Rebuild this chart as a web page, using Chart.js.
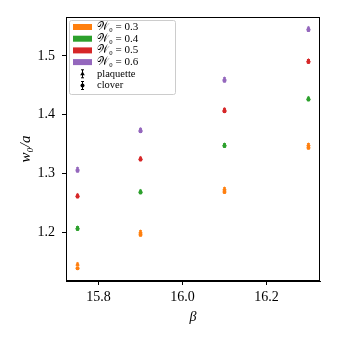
<!DOCTYPE html>
<html>
<head>
<meta charset="utf-8">
<script src="https://cdn.jsdelivr.net/npm/chart.js@4"></script>
<style>
html,body{margin:0;padding:0;background:#fff;}
canvas{display:block;}
</style>
</head>
<body>
<canvas id="c" width="340" height="340"></canvas>
<script>
// ---- data ----
const beta = [15.75, 15.9, 16.1, 16.3];
const w0Labels = ['0.3', '0.4', '0.5', '0.6'];
const colors = ['#ff7f0e', '#2ca02c', '#d62728', '#9467bd'];
const plaq03 = [1.146, 1.201, 1.274, 1.349];
const clov03 = [1.139, 1.196, 1.269, 1.344];
const plaq04 = [1.208, 1.270, 1.349, 1.428];
const clov04 = [1.206, 1.268, 1.347, 1.426];
const plaq05 = [1.263, 1.326, 1.409, 1.492];
const clov05 = [1.261, 1.324, 1.406, 1.490];
const plaq06 = [1.308, 1.375, 1.461, 1.547];
const clov06 = [1.305, 1.372, 1.458, 1.544];
const errs = [0.002, 0.002, 0.002, 0.002];
const xTicks = [15.8, 16.0, 16.2];
const yTicks = [1.2, 1.3, 1.4, 1.5];

const plaqSets = [plaq03, plaq04, plaq05, plaq06];
const clovSets = [clov03, clov04, clov05, clov06];

const datasets = [];
for (let i = 0; i < 4; i++) {
  datasets.push({
    label: 'plaq ' + w0Labels[i],
    data: beta.map((b, k) => ({x: b, y: plaqSets[i][k]})),
    yErr: errs,
    pointStyle: 'triangle',
    pointRadius: 2.6,
    backgroundColor: colors[i],
    borderColor: colors[i],
    borderWidth: 0,
    showLine: false
  });
  datasets.push({
    label: 'clov ' + w0Labels[i],
    data: beta.map((b, k) => ({x: b, y: clovSets[i][k]})),
    yErr: errs,
    pointStyle: 'circle',
    pointRadius: 2,
    backgroundColor: colors[i],
    borderColor: colors[i],
    borderWidth: 0,
    showLine: false
  });
}

const SERIF = '"Liberation Serif", "DejaVu Serif", serif';

const errorBars = {
  id: 'errorBars',
  beforeDatasetsDraw(chart) {
    const ctx = chart.ctx;
    const xs = chart.scales.x, ys = chart.scales.y;
    ctx.save();
    chart.data.datasets.forEach(ds => {
      ctx.strokeStyle = ds.borderColor;
      ctx.lineWidth = 1;
      ds.data.forEach((p, k) => {
        const e = ds.yErr[k];
        const px = xs.getPixelForValue(p.x);
        const y1 = ys.getPixelForValue(p.y - e);
        const y2 = ys.getPixelForValue(p.y + e);
        ctx.beginPath();
        ctx.moveTo(px, y1); ctx.lineTo(px, y2);
        ctx.moveTo(px - 1.5, y1); ctx.lineTo(px + 1.5, y1);
        ctx.moveTo(px - 1.5, y2); ctx.lineTo(px + 1.5, y2);
        ctx.stroke();
      });
    });
    ctx.restore();
  }
};

const frameAndLegend = {
  id: 'frameAndLegend',
  afterDraw(chart) {
    const ctx = chart.ctx;
    const a = chart.chartArea;
    ctx.save();
    // axes frame
    ctx.strokeStyle = '#000';
    ctx.lineWidth = 1;
    ctx.strokeRect(Math.round(a.left) + 0.5, Math.round(a.top) + 0.5,
                   Math.round(a.right - a.left) - 1, Math.round(a.bottom - a.top) - 1);
    // legend box
    const lx = a.left + 3, ly = a.top + 3, lw = 106, lh = 74;
    ctx.beginPath();
    if (ctx.roundRect) ctx.roundRect(lx + 0.5, ly + 0.5, lw, lh, 2); else ctx.rect(lx + 0.5, ly + 0.5, lw, lh);
    ctx.fillStyle = 'rgba(255,255,255,0.8)';
    ctx.fill();
    ctx.strokeStyle = '#cccccc';
    ctx.stroke();
    const rowY = k => ly + 7 + k * 11.7;
    ctx.font = '11px ' + SERIF;
    ctx.textBaseline = 'middle';
    ctx.textAlign = 'left';
    for (let i = 0; i < 4; i++) {
      const y = rowY(i);
      ctx.fillStyle = colors[i];
      ctx.fillRect(lx + 4, y - 3, 19, 6);
      ctx.fillStyle = '#000';
      ctx.fillText('\u{1D4B2}\u2080 = ' + w0Labels[i], lx + 28, y);
    }
    const names = ['plaquette', 'clover'];
    for (let j = 0; j < 2; j++) {
      const y = rowY(4 + j);
      const cx = lx + 13.5;
      ctx.strokeStyle = '#000';
      ctx.fillStyle = '#000';
      ctx.beginPath();
      ctx.moveTo(cx, y - 4); ctx.lineTo(cx, y + 4);
      ctx.moveTo(cx - 1.5, y - 4); ctx.lineTo(cx + 1.5, y - 4);
      ctx.moveTo(cx - 1.5, y + 4); ctx.lineTo(cx + 1.5, y + 4);
      ctx.stroke();
      ctx.beginPath();
      if (j === 0) {
        ctx.moveTo(cx, y - 2.6); ctx.lineTo(cx + 2.3, y + 1.4); ctx.lineTo(cx - 2.3, y + 1.4); ctx.closePath();
      } else {
        ctx.arc(cx, y, 2, 0, Math.PI * 2);
      }
      ctx.fill();
      ctx.font = '10.5px ' + SERIF;
      ctx.fillText(names[j], lx + 28, y);
    }
    ctx.restore();
  }
};

new Chart(document.getElementById('c'), {
  type: 'scatter',
  data: { datasets },
  options: {
    responsive: false,
    devicePixelRatio: 1,
    animation: false,
    layout: { padding: { left: 0, right: 20, top: 17, bottom: 0 } },
    plugins: { legend: { display: false }, tooltip: { enabled: false } },
    scales: {
      x: {
        type: 'linear',
        min: 15.7225, max: 16.3275,
        afterBuildTicks: s => { s.ticks = xTicks.map(v => ({value: v})); },
        afterFit: s => { s.height = 59; },
        grid: { drawOnChartArea: false, drawTicks: true, tickLength: 4, color: '#000', lineWidth: 1 },
        border: { display: true, color: '#000', width: 1 },
        ticks: { color: '#000', padding: 4, font: { family: SERIF, size: 14 }, callback: v => v.toFixed(1), maxRotation: 0 },
        title: { display: true, text: 'β', color: '#000', font: { family: SERIF, size: 14, style: 'italic' }, padding: { top: 14.6, bottom: 14.6 } }
      },
      y: {
        type: 'linear',
        min: 1.1175, max: 1.5663,
        afterBuildTicks: s => { s.ticks = yTicks.map(v => ({value: v})); },
        afterFit: s => { s.width = 66; },
        grid: { drawOnChartArea: false, drawTicks: true, tickLength: 4, color: '#000', lineWidth: 1 },
        border: { display: true, color: '#000', width: 1 },
        ticks: { color: '#000', padding: 7, font: { family: SERIF, size: 14 }, callback: v => v.toFixed(1) },
        title: { display: true, text: 'w₀/a', color: '#000', font: { family: SERIF, size: 15, style: 'italic' }, padding: { top: 16.6, bottom: 16.6 } }
      }
    }
  },
  plugins: [errorBars, frameAndLegend]
});
</script>
</body>
</html>
